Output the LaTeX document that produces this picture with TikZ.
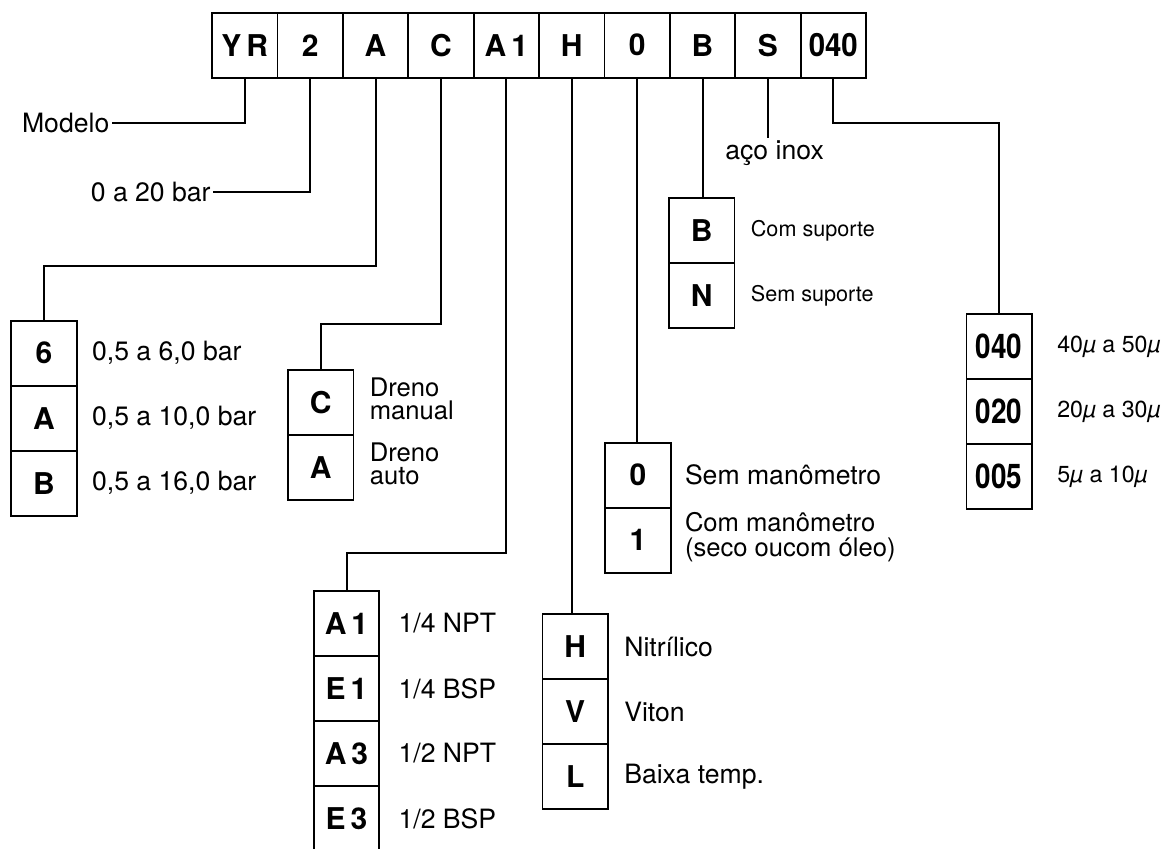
\documentclass[tikz,border=0pt]{standalone}
\usepackage{fontspec}
\setmainfont{TeX Gyre Heros}
\usetikzlibrary{positioning,calc}
\tikzset{
  cbox/.style={draw, line width=0.9pt, outer sep=0pt, inner sep=0pt,
    minimum width=32.7pt, minimum height=32.5pt, font=\fontsize{15}{15}\selectfont\bfseries},
  lbl/.style={inner sep=1pt, font=\fontsize{13.3}{15}\selectfont},
  slbl/.style={inner sep=1pt, font=\fontsize{10.8}{12}\selectfont},
  flbl/.style={inner sep=1pt, font=\fontsize{11.6}{13}\selectfont},
  dlbl/.style={inner sep=1pt, align=left, font=\fontsize{12.8}{11.8}\selectfont},
  mlbl/.style={inner sep=1pt, align=left, font=\fontsize{12.8}{12.8}\selectfont},
  lnk/.style={line width=1pt},
}
\newcommand{\cnd}[1]{\scalebox{0.82}[1]{\fontsize{17}{17}\selectfont\bfseries #1}}
\newcommand{\mi}{{\itshape µ}}

\begin{document}
\begin{tikzpicture}[x=0.5pt, y=-0.5pt]
  \useasboundingbox (0,0) rectangle (1169,848);
  % code row
  \node[cbox] (byr) at (244.7,45.2) {Y\,R};
  \node[cbox, right=0pt of byr] (b2) {2};
  \node[cbox, right=0pt of b2] (ba) {A};
  \node[cbox, right=0pt of ba] (bc) {C};
  \node[cbox, right=0pt of bc] (ba1) {A\,1};
  \node[cbox, right=0pt of ba1] (bh) {H};
  \node[cbox, right=0pt of bh] (b0) {0};
  \node[cbox, right=0pt of b0] (bb) {B};
  \node[cbox, right=0pt of bb] (bs) {S};
  \node[cbox, right=0pt of bs] (b040) {\scalebox{0.92}[1]{\fontsize{16}{16}\selectfont 040}};

  % simple labels
  \node[lbl, anchor=east] (modelo) at (111.7,122.7) {Modelo};
  \node[lbl, anchor=east] (bar) at (213,192) {0 a 20 bar};
  \node[lbl, anchor=north west] (inox) at (723,138) {aço inox};

  % pressure range
  \node[cbox] (pr1) at (44,353.2) {6};
  \node[cbox, below=0pt of pr1] (pr2) {A};
  \node[cbox, below=0pt of pr2] (pr3) {B};
  \node[lbl, right=6.5pt of pr1] {0,5 a 6,0 bar};
  \node[lbl, right=6.5pt of pr2] {0,5 a 10,0 bar};
  \node[lbl, right=6.5pt of pr3] {0,5 a 16,0 bar};

  % drain
  \node[cbox] (dr1) at (320.8,402.8) {C};
  \node[cbox, below=0pt of dr1] (dr2) {A};
  \node[dlbl, right=7pt of dr1, yshift=2pt] {Dreno\\manual};
  \node[dlbl, right=7pt of dr2, yshift=2pt] {Dreno\\auto};

  % port size
  \node[cbox] (cn1) at (346.5,623.5) {A\,1};
  \node[cbox, below=0pt of cn1] (cn2) {E\,1};
  \node[cbox, below=0pt of cn2] (cn3) {A\,3};
  \node[cbox, below=0pt of cn3] (cn4) {E\,3};
  \node[lbl, right=8.5pt of cn1] {1/4 NPT};
  \node[lbl, right=8.5pt of cn2] {1/4 BSP};
  \node[lbl, right=8.5pt of cn3] {1/2 NPT};
  \node[lbl, right=8.5pt of cn4] {1/2 BSP};

  % seal material
  \node[cbox] (el1) at (575.2,646.8) {H};
  \node[cbox, below=0pt of el1] (el2) {V};
  \node[cbox, below=0pt of el2] (el3) {L};
  \node[lbl, right=7pt of el1] {Nitrílico};
  \node[lbl, right=7pt of el2] {Viton};
  \node[lbl, right=7pt of el3] {Baixa temp.};

  % gauge
  \node[cbox] (ga1) at (637.9,475.2) {0};
  \node[cbox, below=0pt of ga1] (ga2) {1};
  \node[lbl, right=6pt of ga1] {Sem manômetro};
  \node[mlbl, right=6pt of ga2, yshift=1.5pt] {Com manômetro\\(seco oucom óleo)};

  % bracket
  \node[cbox] (su1) at (701.8,230.8) {B};
  \node[cbox, below=0pt of su1] (su2) {N};
  \node[slbl, right=7pt of su1] {Com suporte};
  \node[slbl, right=7pt of su2] {Sem suporte};

  % filter element
  \node[cbox] (fi1) at (999.2,346.8) {\cnd{040}};
  \node[cbox, below=0pt of fi1] (fi2) {\cnd{020}};
  \node[cbox, below=0pt of fi2] (fi3) {\cnd{005}};
  \node[flbl, right=11.5pt of fi1] {40\mi{} a 50\mi};
  \node[flbl, right=11.5pt of fi2] {20\mi{} a 30\mi};
  \node[flbl, right=11.5pt of fi3] {5\mi{} a 10\mi};

  % leader lines
  \draw[lnk] (byr.south) |- (modelo.east);
  \draw[lnk] (b2.south) |- (bar.east);
  \draw[lnk] (ba.south) -- ++(0,188) -| (pr1.north);
  \draw[lnk] (bc.south) -- ++(0,246.3) -| (dr1.north);
  \draw[lnk] (ba1.south) -- ++(0,475.6) -| (cn1.north);
  \draw[lnk] (bh.south) -- (bh.south |- el1.north);
  \draw[lnk] (b0.south) -- (b0.south |- ga1.north);
  \draw[lnk] (bb.south) -- (bb.south |- su1.north);
  \draw[lnk] (bs.south) -- (bs.south |- inox.north);
  \draw[lnk] (b040.south) -- ++(0,45.6) -| (fi1.north);
\end{tikzpicture}
\end{document}
